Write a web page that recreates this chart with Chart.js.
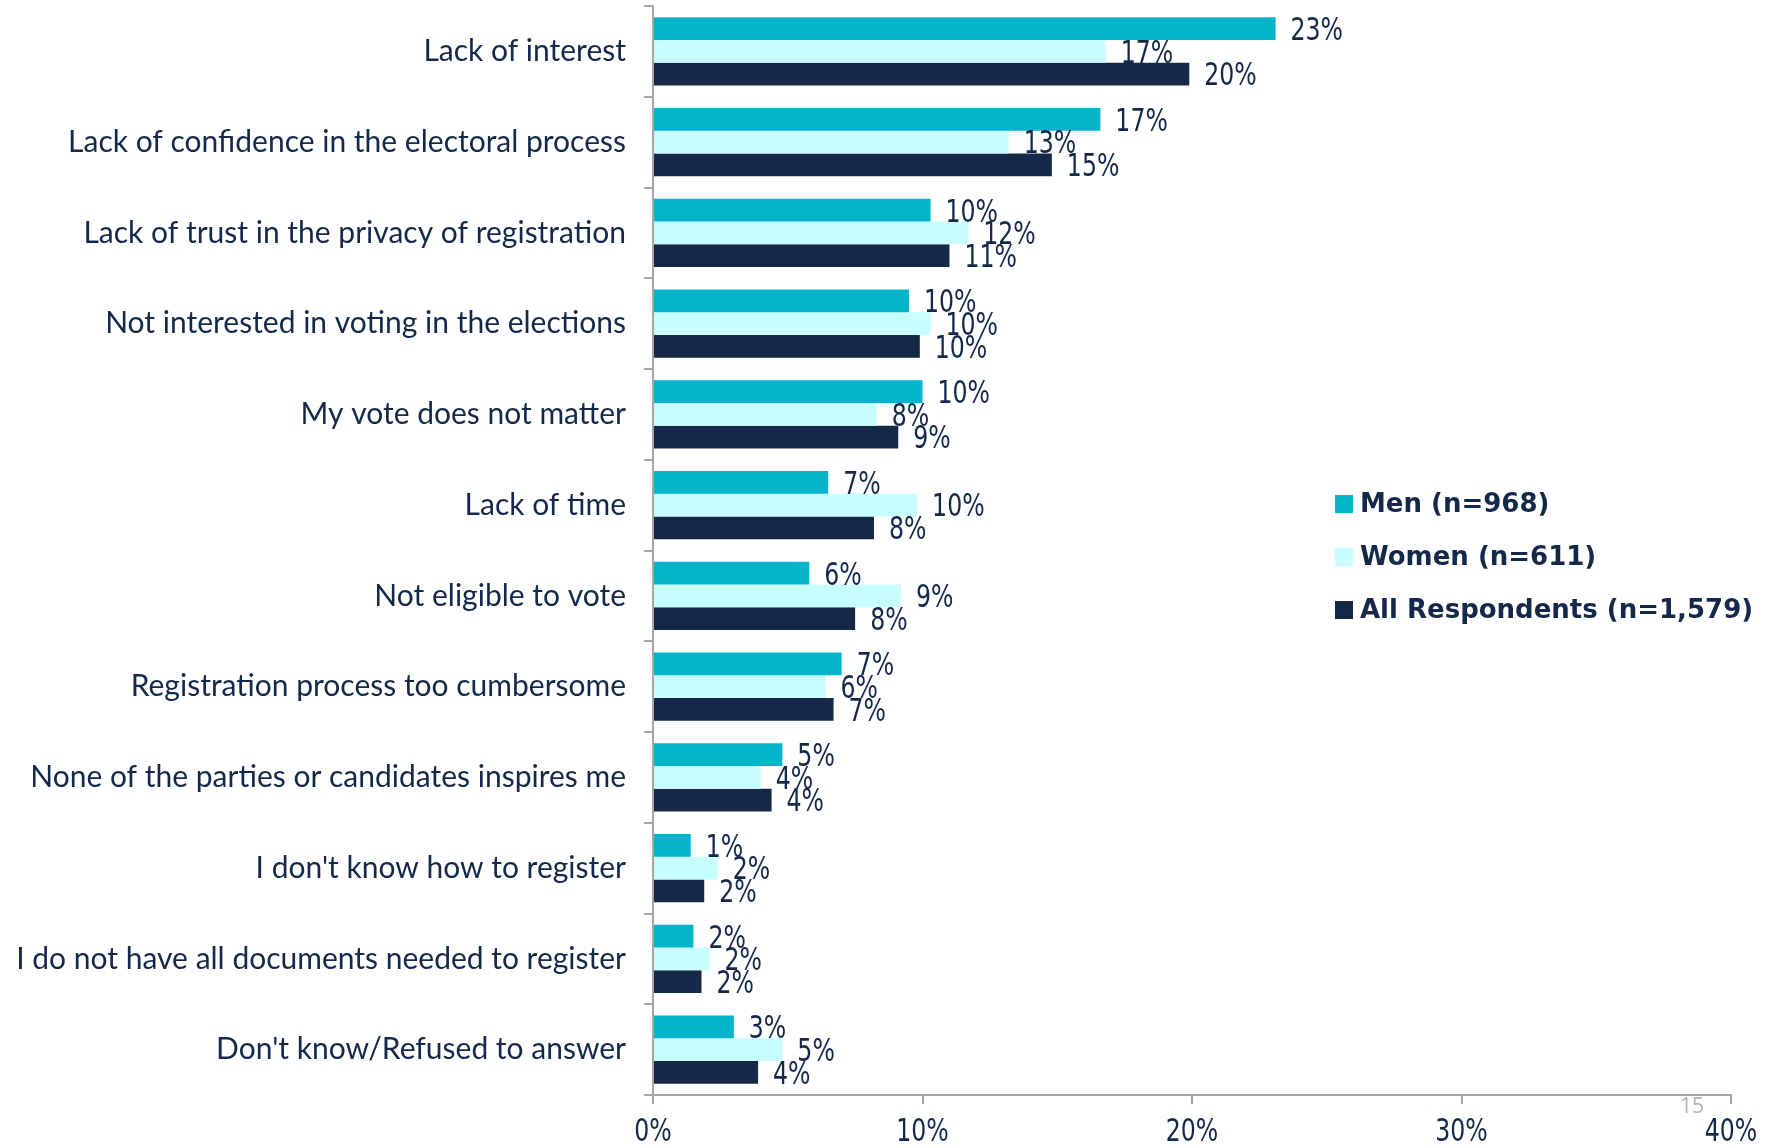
<!doctype html>
<html>
<head>
<meta charset="utf-8">
<script src="https://cdn.jsdelivr.net/npm/chart.js@4.4.1/dist/chart.umd.min.js"></script>
<style>
  html, body { margin: 0; padding: 0; background: #fff; }
  #wrap { position: relative; width: 1777px; height: 1148px; }
  #pagenum { position: absolute; left: 1680px; top: 1091px; font: 21px 'Open Sans'; color: #b3b3b3; }
</style>
</head>
<body>
<div id="wrap">
  <canvas id="chart" width="1777" height="1148"></canvas>
  <div id="pagenum">15</div>
</div>
<script>
const categories = [
  'Lack of interest',
  'Lack of confidence in the electoral process',
  'Lack of trust in the privacy of registration',
  'Not interested in voting in the elections',
  'My vote does not matter',
  'Lack of time',
  'Not eligible to vote',
  'Registration process too cumbersome',
  'None of the parties or candidates inspires me',
  "I don't know how to register",
  'I do not have all documents needed to register',
  "Don't know/Refused to answer"
]
const men = [23.1, 16.6, 10.3, 9.5, 10.0, 6.5, 5.8, 7.0, 4.8, 1.4, 1.5, 3.0]
const women = [16.8, 13.2, 11.7, 10.3, 8.3, 9.8, 9.2, 6.4, 4.0, 2.4, 2.1, 4.8]
const allResp = [19.9, 14.8, 11.0, 9.9, 9.1, 8.2, 7.5, 6.7, 4.4, 1.9, 1.8, 3.9]
const seriesNames = ['Men (n=968)', 'Women (n=611)', 'All Respondents (n=1,579)']
const xTicks = [0, 10, 20, 30, 40]

const NAVY = '#14284a'
const AXIS = '#a6a6a6'
const NARROW = "'DejaVu Sans Condensed', 'DejaVu Sans', sans-serif"

// draw narrow text (reference uses a condensed face)
const narrowText = (ctx, text, x, y, align) => {
  ctx.save()
  ctx.translate(x, y)
  ctx.scale(0.82, 1)
  ctx.textAlign = align
  ctx.fillText(text, 0, 0)
  ctx.restore()
}

const valueLabels = {
  id: 'valueLabels',
  afterDatasetsDraw(chart) {
    const ctx = chart.ctx
    ctx.save()
    ctx.font = '32px ' + NARROW
    ctx.fillStyle = NAVY
    ctx.textBaseline = 'middle'
    chart.data.datasets.forEach((ds, i) => {
      chart.getDatasetMeta(i).data.forEach((bar, j) => {
        narrowText(ctx, Math.round(ds.data[j]) + '%', bar.x + 15, bar.y + 3, 'left')
      })
    })
    // x axis tick labels
    const xs = chart.scales.x
    xs.ticks.forEach(t => {
      narrowText(ctx, t.value + '%', xs.getPixelForValue(t.value), xs.top + 38, 'center')
    })
    ctx.restore()
  }
}

const sideLegend = {
  id: 'sideLegend',
  afterDraw(chart) {
    const ctx = chart.ctx
    ctx.save()
    ctx.font = "bold 26px 'DejaVu Sans'"
    ctx.textBaseline = 'middle'
    chart.data.datasets.forEach((ds, i) => {
      const y = 504 + i * 53
      ctx.fillStyle = ds.backgroundColor
      ctx.fillRect(1335, y - 9, 18, 18)
      ctx.fillStyle = NAVY
      ctx.fillText(ds.label, 1360, y + 1)
    })
    ctx.restore()
  }
}

new Chart(document.getElementById('chart').getContext('2d'), {
  type: 'bar',
  data: {
    labels: categories,
    datasets: [
      { label: seriesNames[0], data: men, backgroundColor: '#05b3cb' },
      { label: seriesNames[1], data: women, backgroundColor: '#c7feff' },
      { label: seriesNames[2], data: allResp, backgroundColor: '#152847' }
    ]
  },
  options: {
    indexAxis: 'y',
    responsive: false,
    animation: false,
    layout: { padding: { top: 6, right: 46, bottom: 0, left: 0 } },
    datasets: { bar: { barPercentage: 1, categoryPercentage: 0.75, borderWidth: 0 } },
    plugins: { legend: { display: false }, tooltip: { enabled: false } },
    scales: {
      x: {
        min: 0, max: 40,
        afterBuildTicks: s => { s.ticks = xTicks.map(v => ({ value: v })) },
        afterFit: s => { s.height = 53; s.paddingLeft = 0; s.paddingRight = 0 },
        ticks: { display: false },
        grid: { drawOnChartArea: false, tickLength: 9, color: AXIS, lineWidth: 2 },
        border: { color: AXIS, width: 2 }
      },
      y: {
        afterFit: s => { s.width = 653; s.paddingTop = 0; s.paddingBottom = 0 },
        ticks: { color: NAVY, font: { family: 'Lato', size: 30 }, padding: 18 },
        grid: { drawOnChartArea: false, tickLength: 9, color: AXIS, lineWidth: 2, offset: true },
        border: { color: AXIS, width: 2 }
      }
    }
  },
  plugins: [valueLabels, sideLegend]
})
</script>
</body>
</html>
